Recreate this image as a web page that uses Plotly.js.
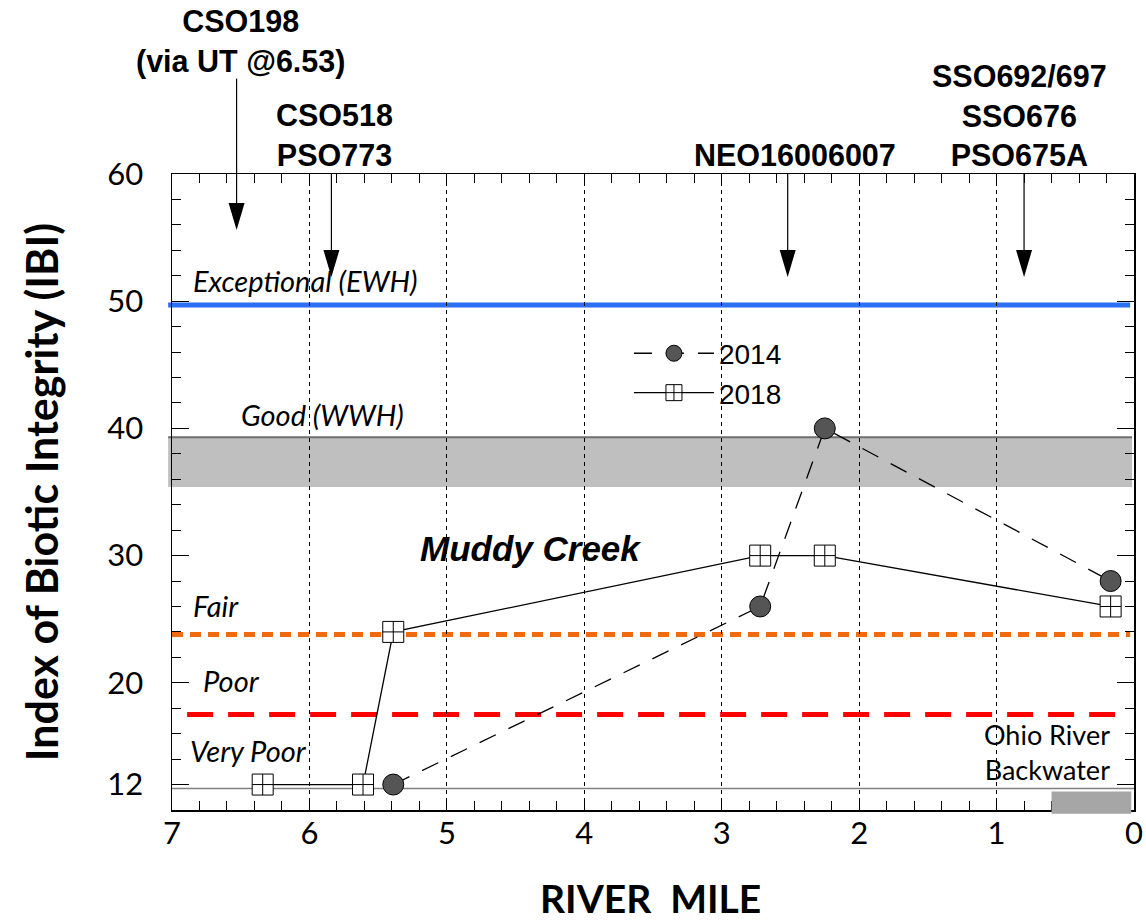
<!DOCTYPE html>
<html><head><meta charset="utf-8">
<script src="https://cdn.plot.ly/plotly-3.0.1.min.js"></script>
<style>html,body{margin:0;padding:0;background:#fff}#chart{width:1146px;height:921px}</style>
</head><body><div id="chart"></div>
<script>
// ---- data ----
const seriesNames = ['2014', '2018'];
const mile2014 = [5.39, 2.72, 2.25, 0.17];
const ibi2014  = [12, 26, 40, 28];
const mile2018 = [6.34, 5.61, 5.39, 2.72, 2.25, 0.17];
const ibi2018  = [12, 12, 24, 30, 30, 26];

const xTickVals = [7, 6, 5, 4, 3, 2, 1, 0];
const yTickVals = [12, 20, 30, 40, 50, 60];

// narrative criteria
const criteriaNames  = ['Exceptional (EWH)', 'Good (WWH)', 'Fair', 'Poor', 'Very Poor'];
const criteriaLabelMile = [6.86, 6.51, 6.86, 6.79, 6.88];
const criteriaLabelIbi  = [51.6, 41.1, 26.1, 20.2, 14.7];
const exceptionalIbi = 49.7;
const goodBandIbi = [35.4, 39.3];
const fairIbi = 23.8;
const poorIbi = 17.5;
const minimumIbi = 11.7;

// Ohio River backwater reach
const backwaterMiles = [0.6, 0.02];
const backwaterIbi = [9.7, 11.45];
const backwaterLabel = 'Ohio River<br>Backwater';

// discharge sources (arrows)
const sourceLabels = ['CSO198<br>(via UT @6.53)', 'CSO518<br>PSO773', 'NEO16006007', 'SSO692/697<br>SSO676<br>PSO675A'];
const sourceMiles  = [6.53, 5.84, 2.52, 0.80];
const sourceLabelMiles = [6.50, 5.82, 2.47, 0.83];
const sourceTipIbi = [55.6, 51.9, 51.9, 51.9];
const sourceStartIbi = [67.5, 60, 60, 60];
const sourceLabelIbi = [67.35, 60.0, 60.0, 60.0];

const Y0 = 10, Y1 = 60;
const toPaper = v => (v - Y0) / (Y1 - Y0);

const SANS = 'Lato, "Open Sans", sans-serif';
const ARIAL = '"Liberation Sans", Arial, sans-serif';

const traces = [
  {x: mile2014, y: ibi2014, name: seriesNames[0], type: 'scatter', mode: 'lines+markers',
   line: {color: '#000', width: 1.3, dash: '18px,14px'},
   marker: {symbol: 'circle', size: 21, color: '#555555', line: {color: '#000', width: 1}}},
  {x: mile2018, y: ibi2018, name: seriesNames[1], type: 'scatter', mode: 'lines+markers',
   line: {color: '#000', width: 1.3},
   marker: {symbol: 'square-cross', size: 21, color: '#fff', line: {color: '#000', width: 1}}}
];

const shapes = [];
const annotations = [];

// good band
shapes.push({type: 'rect', layer: 'below', xref: 'paper', yref: 'y', x0: -0.004, x1: 0.998,
  y0: goodBandIbi[0], y1: goodBandIbi[1], fillcolor: '#bfbfbf', line: {width: 0}});
shapes.push({type: 'line', layer: 'below', xref: 'paper', yref: 'y', x0: -0.004, x1: 0.998,
  y0: goodBandIbi[1], y1: goodBandIbi[1], line: {color: '#6e6e6e', width: 2}});
// minimum line
shapes.push({type: 'line', layer: 'below', xref: 'paper', yref: 'y', x0: 0, x1: 1,
  y0: minimumIbi, y1: minimumIbi, line: {color: '#808080', width: 1.5}});
// backwater box
shapes.push({type: 'rect', layer: 'above', xref: 'x', yref: 'paper', x0: backwaterMiles[0], x1: backwaterMiles[1],
  y0: toPaper(backwaterIbi[0]), y1: toPaper(backwaterIbi[1]), fillcolor: '#a6a6a6', line: {width: 0}});
// criteria lines
shapes.push({type: 'line', layer: 'below', xref: 'paper', yref: 'y', x0: -0.004, x1: 0.996,
  y0: exceptionalIbi, y1: exceptionalIbi, line: {color: '#2b6ff2', width: 5}});
shapes.push({type: 'line', layer: 'below', xref: 'paper', yref: 'y', x0: 0, x1: 0.996,
  y0: fairIbi, y1: fairIbi, line: {color: '#f06a10', width: 5, dash: '11px,7px'}});
shapes.push({type: 'line', layer: 'below', xref: 'x', yref: 'y', x0: 6.89, x1: 0.12,
  y0: poorIbi, y1: poorIbi, line: {color: '#ff0000', width: 5, dash: '26px,15px'}});

// arrows
sourceMiles.forEach((m, i) => {
  shapes.push({type: 'line', layer: 'above', xref: 'x', yref: 'paper', x0: m, x1: m,
    y0: toPaper(sourceStartIbi[i]), y1: toPaper(sourceTipIbi[i] + 1.5), line: {color: '#000', width: 1.2}});
  shapes.push({type: 'path', layer: 'above', xref: 'x', yref: 'y', xsizemode: 'pixel', ysizemode: 'pixel',
    xanchor: m, yanchor: sourceTipIbi[i], path: 'M0,0 L-8,27 L8,27 Z', fillcolor: '#000', line: {width: 0}});
  annotations.push({xref: 'x', yref: 'paper', x: sourceLabelMiles[i], y: toPaper(sourceLabelIbi[i]),
    xanchor: 'center', yanchor: 'bottom', showarrow: false, text: sourceLabels[i],
    font: {family: ARIAL, size: 30.5, weight: 700, color: '#000'}});
});

// criteria labels
criteriaNames.forEach((t, i) => {
  annotations.push({xref: 'x', yref: 'y', x: criteriaLabelMile[i], y: criteriaLabelIbi[i],
    xanchor: 'left', yanchor: 'middle', showarrow: false, text: t,
    font: {family: SANS, size: 29, style: 'italic', color: '#000'}});
});
annotations.push({xref: 'x', yref: 'y', x: 4.39, y: 30.55, xanchor: 'center', yanchor: 'middle',
  showarrow: false, text: 'Muddy Creek', font: {family: ARIAL, size: 35, weight: 700, style: 'italic', color: '#000'}});
annotations.push({xref: 'x', yref: 'y', x: 0.16, y: 14.55, xanchor: 'right', yanchor: 'middle', align: 'right',
  showarrow: false, text: backwaterLabel, font: {family: SANS, size: 27, color: '#000'}});

// axis titles
annotations.push({xref: 'paper', yref: 'paper', x: -0.136, y: 0.5, xanchor: 'center', yanchor: 'middle',
  textangle: -90, showarrow: false, text: 'Index of Biotic Integrity (IBI)',
  font: {family: SANS, size: 43, weight: 700, color: '#000'}});
annotations.push({xref: 'paper', yref: 'paper', x: 0.497, y: -0.138, xanchor: 'center', yanchor: 'middle',
  showarrow: false, text: 'RIVER\u00a0 MILE',
  font: {family: SANS, size: 39, weight: 700, color: '#000'}});

const layout = {
  width: 1146, height: 921,
  margin: {l: 172, r: 12, t: 174, b: 111},
  paper_bgcolor: '#fff', plot_bgcolor: '#fff',
  showlegend: true,
  legend: {x: 0.475, y: 0.757, xanchor: 'left', yanchor: 'top', bgcolor: 'rgba(0,0,0,0)',
    font: {family: ARIAL, size: 28, color: '#000'}, itemwidth: 80, tracegroupgap: 0},
  xaxis: {
    range: [7, 0], tickmode: 'array', tickvals: xTickVals, ticktext: xTickVals.map(String),
    showline: true, linecolor: '#000', linewidth: 1.5, mirror: 'allticks',
    ticks: 'inside', ticklen: 9, tickcolor: '#000', tickwidth: 1,
    showgrid: true, gridcolor: '#000', gridwidth: 1, griddash: '4px,4px',
    minor: {dtick: 0.2, tick0: 0, ticks: 'inside', ticklen: 9, tickcolor: '#000', showgrid: false},
    tickfont: {family: SANS, size: 31, color: '#000'}, ticklabelstandoff: -5,
    zeroline: false
  },
  yaxis: {
    range: [Y0, Y1], tickmode: 'array', tickvals: yTickVals,
    showline: true, linecolor: '#000', linewidth: 1.5, mirror: 'allticks',
    ticks: 'inside', ticklen: 17, tickcolor: '#000', tickwidth: 1,
    showgrid: false, zeroline: false,
    minor: {dtick: 2, tick0: 10, ticks: 'inside', ticklen: 9, tickcolor: '#000', showgrid: false},
    tickfont: {family: SANS, size: 31, color: '#000'}, ticklabelstandoff: 21
  },
  shapes: shapes,
  annotations: annotations
};

Plotly.newPlot('chart', traces, layout, {displayModeBar: false, staticPlot: true});
</script>
</body></html>
